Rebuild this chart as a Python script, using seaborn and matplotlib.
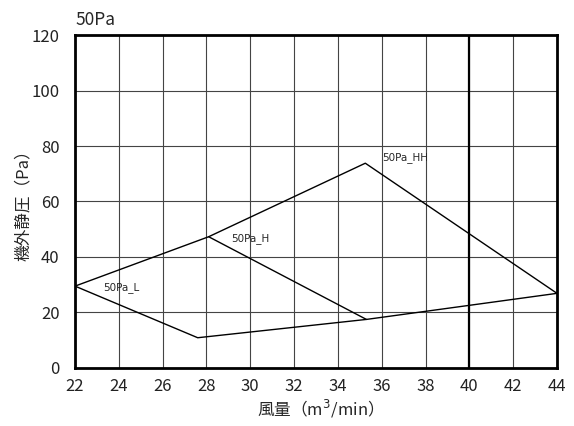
import numpy as np
import pandas as pd
import matplotlib
matplotlib.use("Agg")
import matplotlib.pyplot as plt
import seaborn as sns

# Operating range outline
outline_x = [22.0, 28.1, 35.25, 44.0, 35.3, 27.6, 22.0]
outline_y = [29.5, 47.3, 73.8, 26.9, 17.5, 10.9, 29.5]

# Inner line separating H and L regions
inner_x = [28.1, 35.3]
inner_y = [47.3, 17.5]

labels = ["50Pa_HH", "50Pa_H", "50Pa_L"]
label_x = [36.0, 29.15, 23.3]
label_y = [75.7, 46.5, 29.0]

x_ticks = list(range(22, 45, 2))
y_ticks = list(range(0, 121, 20))
limit_x = 40

sns.set_theme(style="white")
plt.rcParams["font.family"] = ["Noto Sans CJK JP", "DejaVu Sans"]

fig = plt.figure(figsize=(5.74, 4.26), dpi=100)
ax = fig.add_axes([0.1307, 0.1362, 0.8397, 0.7816])

outline = pd.DataFrame({"x": outline_x, "y": outline_y})
inner = pd.DataFrame({"x": inner_x, "y": inner_y})
sns.lineplot(data=outline, x="x", y="y", sort=False, estimator=None,
             color="black", linewidth=1.0, ax=ax)
sns.lineplot(data=inner, x="x", y="y", sort=False, estimator=None,
             color="black", linewidth=1.0, ax=ax)

for t, lx, ly in zip(labels, label_x, label_y):
    ax.text(lx, ly, t, fontsize=7.5, va="center", ha="left",
            family=["Liberation Sans Narrow", "DejaVu Sans"])

ax.axvline(limit_x, color="black", linewidth=1.6, zorder=3)

ax.set_xlim(22, 44)
ax.set_ylim(0, 120)
ax.set_xticks(x_ticks)
ax.set_yticks(y_ticks)
ax.grid(True, color="#444444", linewidth=0.8)
ax.set_axisbelow(True)
ax.tick_params(length=0, labelsize=12, colors="#222222")
ax.tick_params(axis="x", pad=7)
ax.tick_params(axis="y", pad=11)
for s in ax.spines.values():
    s.set_color("black")
    s.set_linewidth(2.0)

ax.set_xlabel("風量（m$^3$/min）", fontsize=12, labelpad=2)
ax.set_ylabel("機外静圧（Pa）", fontsize=12, labelpad=0)
ax.set_title("50Pa", loc="left", fontsize=12.5, pad=7)

fig.savefig("out.png", dpi=100)
